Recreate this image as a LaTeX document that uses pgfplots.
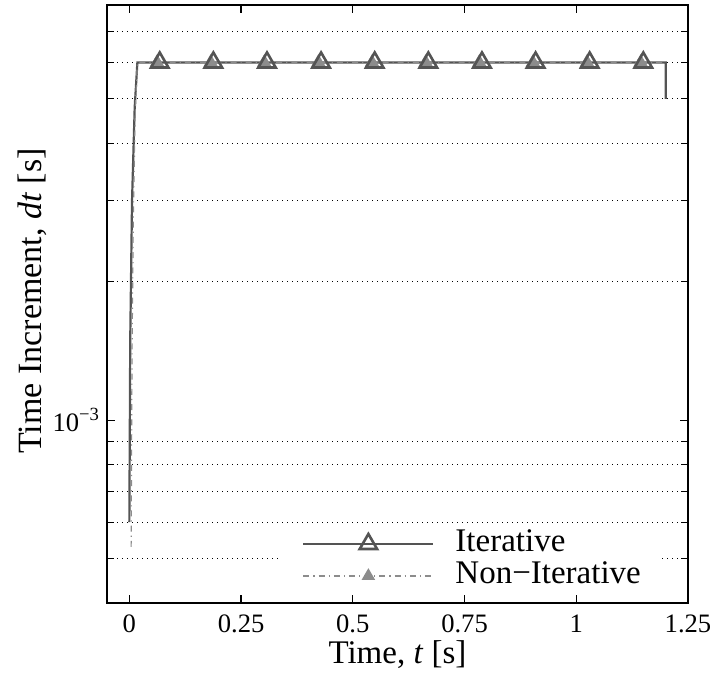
\documentclass[border=0pt]{standalone}
\usepackage{pgfplots}
\pgfplotsset{compat=1.18}
\usepackage{fontspec}
\setmainfont{Liberation Serif}
\definecolor{itc}{gray}{0.33}
\definecolor{nic}{gray}{0.55}
\begin{document}
\begin{tikzpicture}
\begin{axis}[
  scale only axis,
  width=290.5pt, height=299pt,
  xmin=-0.05, xmax=1.25,
  ymode=log, ymin=4e-4, ymax=8e-3,
  log basis y=10,
  xtick={0,0.25,0.5,0.75,1,1.25},
  xticklabels={0,0.25,0.5,0.75,1,1.25},
  ytick={1e-3},
  yticklabels={10\textsuperscript{−3}},
  minor ytick={5e-4,6e-4,7e-4,8e-4,9e-4,2e-3,3e-3,4e-3,5e-3,6e-3,7e-3},
  yminorgrids=true,
  ymajorgrids=false,
  minor grid style={black, line width=0.5pt, dotted},
  tick align=inside,
  xtick pos=both, ytick pos=both,
  major tick length=4pt,
  minor tick length=3.5pt,
  tick style={black, line width=0.6pt},
  axis line style={black, line width=0.9pt},
  ticklabel style={font=\fontsize{13.3}{16}\selectfont},
  xticklabel style={anchor=base, yshift=-14.5pt},
  /pgf/number format/assume math mode=true,
  xlabel={Time, \textit{t} [s]},
  ylabel={Time Increment, \textit{dt} [s]},
  xlabel style={font=\fontsize{16.5}{19}\selectfont,
    at={(axis description cs:0.5,0)}, anchor=base, yshift=-30pt},
  ylabel style={font=\fontsize{17}{19}\selectfont,
    at={(axis description cs:-0.112,0.505)}, anchor=base},
  clip=false,
  legend style={
    at={(rel axis cs:0.301,0.017)}, anchor=south west,
    draw=none, fill=white,
    font=\fontsize{16.5}{19}\selectfont,
    inner xsep=10pt, inner ysep=1pt,
    row sep=1.5pt,
    nodes={text height=11pt, text depth=3.5pt, inner sep=0pt},
    column sep=10.5pt,
  },
  legend cell align=left,
]
\addplot[color=itc, line width=1.1pt,
  legend image code/.code={
    \draw[itc, line width=1.1pt] (0pt,0pt) -- (65pt,0pt);
    \draw[itc, line width=1.3pt] plot[mark=triangle, mark size=5pt, mark options={solid, fill=none}] coordinates {(32.5pt,0pt)};
  }]
  coordinates {
  (0.000,6.0e-4) (0.002,1.5e-3) (0.006,3.0e-3) (0.012,4.8e-3) (0.018,6.0e-3)
  (1.200,6.0e-3) (1.200,5.0e-3)
  };
\addlegendentry{Iterative}
\addplot[color=nic, line width=0.6pt, dash dot,
  legend image code/.code={
    \draw[nic, line width=0.6pt, dash dot] (0pt,0pt) -- (65pt,0pt);
    \draw[nic] plot[mark=triangle*, mark size=3.3pt, mark options={solid, draw=nic, fill=nic}] coordinates {(32.5pt,0pt)};
  }]
  coordinates {
  (0.004,5.3e-4) (0.006,1.4e-3) (0.009,2.8e-3) (0.013,4.6e-3) (0.018,6.0e-3)
  (1.196,6.0e-3)
  };
\addlegendentry{Non−Iterative}
\addplot[only marks, forget plot, mark=triangle*, mark size=3.8pt,
  mark options={solid, draw=nic, fill=nic}]
  coordinates {
  (0.062,6.0e-3) (0.182,6.0e-3) (0.302,6.0e-3) (0.423,6.0e-3) (0.543,6.0e-3)
  (0.663,6.0e-3) (0.783,6.0e-3) (0.903,6.0e-3) (1.024,6.0e-3) (1.144,6.0e-3)
  };
\addplot[only marks, forget plot, mark=triangle, mark size=5pt,
  mark options={solid, line width=1.3pt, draw=itc, fill=none}]
  coordinates {
  (0.068,6.0e-3) (0.188,6.0e-3) (0.308,6.0e-3) (0.429,6.0e-3) (0.549,6.0e-3)
  (0.669,6.0e-3) (0.789,6.0e-3) (0.909,6.0e-3) (1.030,6.0e-3) (1.150,6.0e-3)
  };
\end{axis}
\path (current axis.south west) ++(-53.5pt,-36.5pt);
\path (current axis.north east) ++(16pt,2.5pt);
\end{tikzpicture}
\end{document}
